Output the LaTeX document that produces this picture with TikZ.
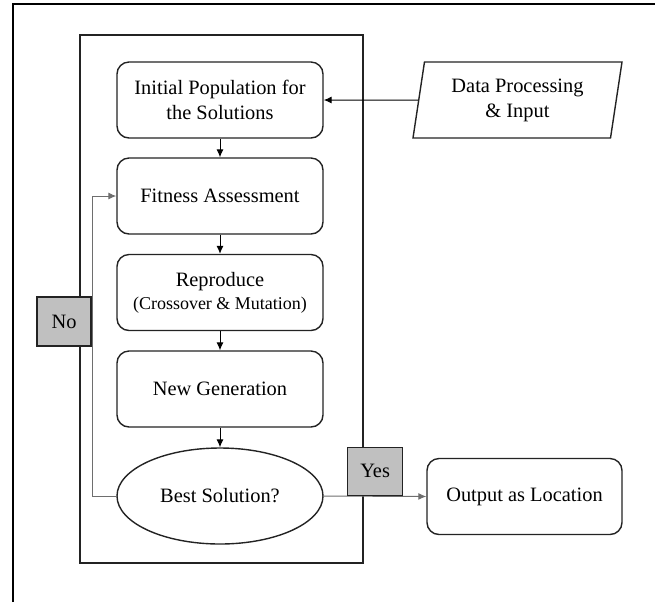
\documentclass[tikz,border=0pt]{standalone}
\usepackage{fontspec}
\setmainfont{Liberation Serif}
\usepackage{tikz}
\usetikzlibrary{positioning, arrows.meta, shapes.geometric}
\definecolor{edgedark}{RGB}{35,35,35}
\definecolor{tagfill}{RGB}{192,192,192}
\definecolor{loopgrey}{RGB}{110,110,110}

\begin{document}
\begin{tikzpicture}[x=0.5pt, y=-0.5pt,
    every node/.style={font=\fontsize{10.2}{12.5}\selectfont},
    ga block/.style={rectangle, rounded corners=6pt, draw=edgedark, line width=0.7pt,
                     minimum width=103pt, minimum height=38pt, align=center, inner sep=2pt},
    tag box/.style={rectangle, draw=edgedark, fill=tagfill, line width=0.6pt,
                    minimum width=27pt, minimum height=24.5pt, inner sep=0pt},
    arr/.style={-{Latex[length=4pt,width=3.5pt]}, line width=0.5pt},
  ]
  \useasboundingbox (0,0) rectangle (655,602);

  % ============ FRAMES ============
  \draw[black, line width=1pt] (13,602) -- (13,4) -- (655,4);
  \draw[edgedark, line width=0.7pt] (80,35) rectangle (363,563);

  % ============ GA LOOP (centre column) ============
  \node[ga block] (init) at (220,100) {Initial Population for\\the Solutions};
  \node[ga block] (fit) at (220,196) {Fitness Assessment};
  \node[ga block] (repro) at (220,292.5) {%
    Reproduce\\[-1pt]
    {\fontsize{9}{12}\selectfont(Crossover \& Mutation)}};
  \node[ga block] (newgen) at (220,389) {New Generation};
  \node[ellipse, draw=edgedark, line width=0.7pt, inner sep=0pt,
        minimum width=103pt, minimum height=48pt] (best) at (220,496) {Best Solution?};

  % ============ INPUT / OUTPUT ============
  \node[trapezium, trapezium left angle=75, trapezium right angle=105,
        trapezium stretches body=true,
        draw=edgedark, line width=0.7pt, align=center, inner sep=0pt,
        minimum width=104.5pt, minimum height=38pt] (data) at (517.5,100)
    {Data Processing\\\& Input};
  \node[ga block, minimum width=97.5pt] (out) at (524.5,496.5) {Output as Location};

  % arrows down the column
  \draw[arr] (data.west) -- (init.east);
  \draw[arr] (init) -- (fit);
  \draw[arr] (fit) -- (repro);
  \draw[arr] (repro) -- (newgen);
  \draw[arr] (newgen) -- (best);

  % ============ DECISION BRANCHES ============
  \coordinate (loopx) at (92,0);
  \draw[arr, loopgrey] (best.west) -- (best.west -| loopx)
    -- (fit.west -| loopx) -- (fit.west);
  \draw[arr, loopgrey] (best.east) -- (out.west);

  \node[tag box] (no) at (64,321.5) {No};
  \node[tag box, minimum width=27.5pt, minimum height=24pt, anchor=south west]
    (yes) at (347,496) {Yes};

\end{tikzpicture}
\end{document}
